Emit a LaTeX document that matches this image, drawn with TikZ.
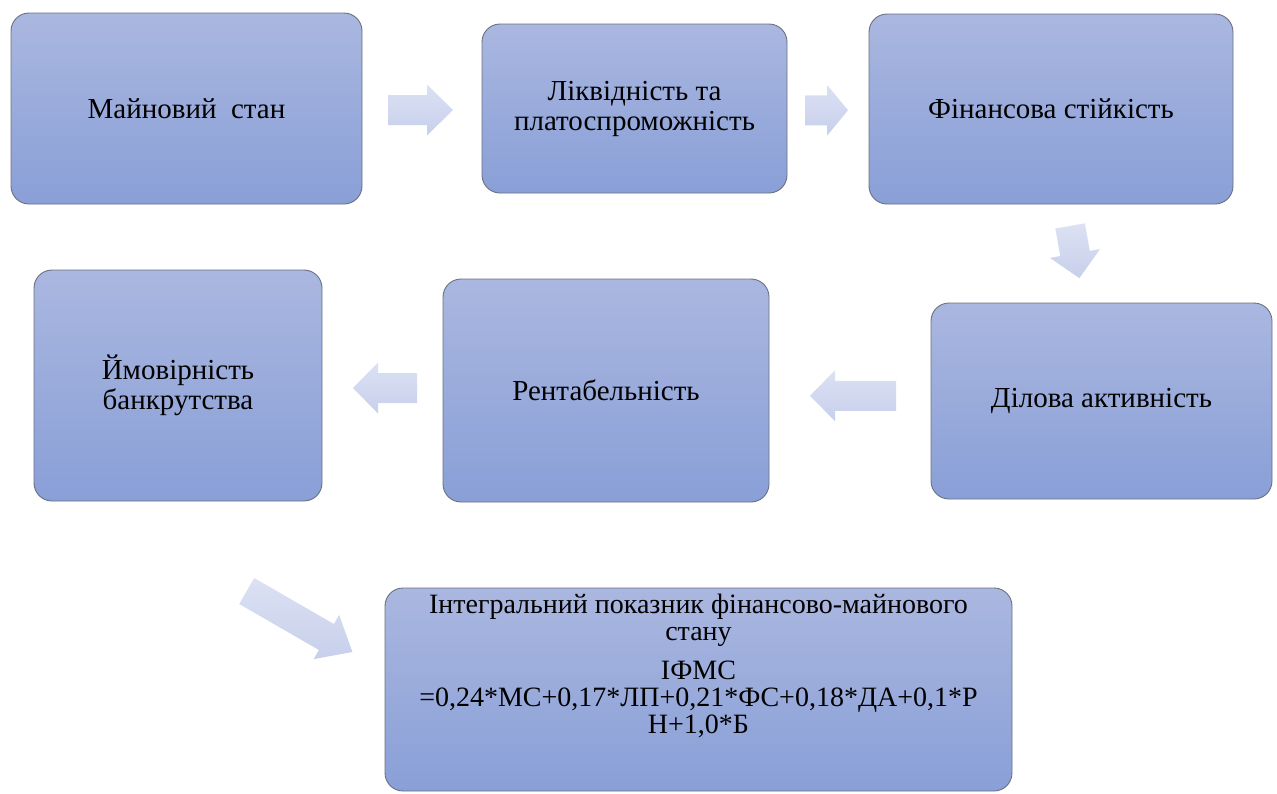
\documentclass[tikz,border=0pt]{standalone}
\usepackage{fontspec}
\setmainfont{Liberation Serif}
\usetikzlibrary{calc}
\definecolor{blockTop}{RGB}{170,183,224}
\definecolor{blockBottom}{RGB}{137,159,215}
\definecolor{blockLine}{RGB}{105,112,128}
\definecolor{arrowTop}{RGB}{220,225,243}
\definecolor{arrowBottom}{RGB}{199,207,235}
\begin{document}
\begin{tikzpicture}[x=1pt,y=-1pt,block/.style={rectangle,draw=blockLine,line width=0.9pt,rounded corners=18pt,top color=blockTop,bottom color=blockBottom,align=center,inner sep=0,font=\rmfamily\fontsize{29}{30}\selectfont},formula/.style={align=center,inner sep=0,font=\rmfamily\fontsize{28}{27}\selectfont},arrowfill/.style={draw=none,top color=arrowTop,bottom color=arrowBottom},pics/fatarrow/.style 2 args={code={\path[arrowfill] ({-#1/2},-15) -- ({#1/2-#2},-15) -- ({#1/2-#2},-25.5) -- ({#1/2},0) -- ({#1/2-#2},25.5) -- ({#1/2-#2},15) -- ({-#1/2},15) -- cycle;}}]
  \useasboundingbox (0,0) rectangle (1277,793);
  \node[block,minimum width=351,minimum height=191] (b1) at (186.5,108.5) {Майновий\ \ стан};
  \node[block,minimum width=305,minimum height=169] (b2) at (634.5,108.5) {Ліквідність та\\платоспроможність};
  \node[block,minimum width=364,minimum height=190] (b3) at (1051,109) {Фінансова стійкість};
  \node[block,minimum width=341,minimum height=196] (b4) at (1101.5,401) {Ділова активність};
  \node[block,minimum width=326,minimum height=223] (b5) at (606,390.5) {Рентабельність};
  \node[block,minimum width=288,minimum height=231] (b6) at (178,385.5) {Ймовірність\\банкрутства};
  \node[block,minimum width=627,minimum height=203] (b7) at (698.5,689.5) {};
  \node[formula,anchor=north] (b7txt) at ($(b7.north)+(0,6)$) {Інтегральний показник фінансово-майнового\\стану\\[12pt]ІФМС\\=0,24*МС+0,17*ЛП+0,21*ФС+0,18*ДА+0,1*Р\\Н+1,0*Б};
  % block arrows between the boxes
  \pic at ($(b1.east)!0.5!(b2.west)+(-1.5,1.5)$) {fatarrow={65}{26}};
  \pic at ($(b2.east)!0.5!(b3.west)+(-1.5,1.5)$) {fatarrow={43}{21}};
  \pic[rotate=-80] at ($(b3.south)!0.5!(b4.north)+(-1.5,-1.5)$) {fatarrow={53}{25}};
  \pic[rotate=180] at ($(b5.east)!0.5!(b4.west)+(3,0)$) {fatarrow={86}{25}};
  \pic[rotate=180] at ($(b6.east)!0.5!(b5.west)+(2.5,0)$) {fatarrow={64}{25}};
  \pic[rotate=-30] at ($(b7.west)+(-85,-68)$) {fatarrow={122}{30}};
\end{tikzpicture}
\end{document}
